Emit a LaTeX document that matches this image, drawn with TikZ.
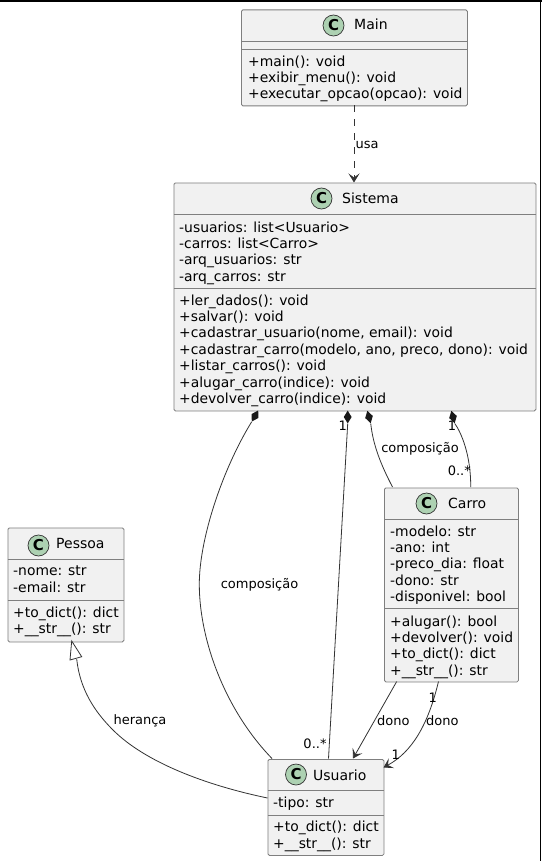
\documentclass[tikz,border=0pt]{standalone}
\usepackage{fontspec}
\setmainfont{DejaVu Sans}
\usepackage{tikz}
\usetikzlibrary{arrows.meta,calc,positioning,shapes.geometric}

\definecolor{boxfill}{HTML}{F1F1F1}
\definecolor{boxline}{HTML}{7F7F7F}
\definecolor{spotfill}{HTML}{ADD1B2}
\definecolor{edgeline}{HTML}{333333}

\tikzset{
    classbox/.style={draw=boxline, fill=boxfill, rounded corners=1.5pt, line width=0.8pt, inner sep=0pt, anchor=north west},
    classname/.style={font=\fontsize{14}{16}\selectfont, inner sep=0pt, anchor=base west, text=black},
    members/.style={font=\fontsize{13.9}{16.35}\selectfont, inner sep=0pt, anchor=north west, align=left, text=black},
    spot/.style={circle, draw=black!80, fill=spotfill, line width=0.7pt, minimum size=21pt, inner sep=0pt, font=\bfseries\fontsize{15}{15}\selectfont},
    sep/.style={draw=boxline, line width=0.8pt},
    edge/.style={draw=edgeline, line width=0.8pt},
    lbl/.style={font=\fontsize{13}{14}\selectfont, inner sep=0pt, text=black},
    comp/.style={diamond, fill=black!90, inner sep=0pt, minimum width=8pt, minimum height=13pt},
    barb/.style={-{Stealth[length=9pt,width=11pt,inset=4pt]}}
}

\begin{document}
\begin{tikzpicture}[x=1pt, y=-1pt]
    \useasboundingbox (0,0) rectangle (542,861);
    % Frame
    \fill[white] (0,0) rectangle (542,861);
    \draw[black, line width=2pt] (0,1) -- (542,1);
    \draw[black, line width=1pt] (540.5,0) -- (540.5,861);

    % Main
    \node[classbox, minimum width=226pt, minimum height=96pt] (main) at (241,9.5) {};
    \draw[sep] (241,41.5) -- (467,41.5);
    \draw[sep] (241,49.5) -- (467,49.5);
    \node[spot] (mainc) at (333.5,25.5) {C};
    \node[classname] (maint) at (354,30) {Main};
    \node[members] (mainm) at (248,55.5) {+main(): void\\+exibir\_menu(): void\\+executar\_opcao(opcao): void};

    % Sistema
    \node[classbox, minimum width=362pt, minimum height=228pt] (sistema) at (173.5,182.5) {};
    \draw[sep] (173.5,214.5) -- (535.5,214.5);
    \draw[sep] (173.5,288) -- (535.5,288);
    \node[spot] (sistemac) at (321.5,198.5) {C};
    \node[classname] (sistemat) at (342,204) {Sistema};
    \node[members] (sistemaa) at (179,221.5) {-usuarios: list<Usuario>\\-carros: list<Carro>\\-arq\_usuarios: str\\-arq\_carros: str};
    \node[members] (sistemam) at (179,294.5) {+ler\_dados(): void\\+salvar(): void\\+cadastrar\_usuario(nome, email): void\\+cadastrar\_carro(modelo, ano, preco, dono): void\\+listar\_carros(): void\\+alugar\_carro(indice): void\\+devolver\_carro(indice): void};

    % Pessoa
    \node[classbox, minimum width=116pt, minimum height=114pt] (pessoa) at (7.5,527.5) {};
    \draw[sep] (7.5,559.5) -- (123.5,559.5);
    \draw[sep] (7.5,600.5) -- (123.5,600.5);
    \node[spot] (pessoac) at (38.5,545.5) {C};
    \node[classname] (pessoat) at (56,548.5) {Pessoa};
    \node[members] (pessoaa) at (13,566) {-nome: str\\-email: str};
    \node[members] (pessoam) at (13,606.5) {+to\_dict(): dict\\+\_\_str\_\_(): str};

    % Carro
    \node[classbox, minimum width=134pt, minimum height=194pt] (carro) at (384,487.5) {};
    \draw[sep] (384,519.5) -- (518,519.5);
    \draw[sep] (384,608) -- (518,608);
    \node[spot] (carroc) at (426.5,503.5) {C};
    \node[classname] (carrot) at (448,508.5) {Carro};
    \node[members] (carroa) at (390,525.5) {-modelo: str\\-ano: int\\-preco\_dia: float\\-dono: str\\-disponivel: bool};
    \node[members] (carrom) at (390,615.5) {+alugar(): bool\\+devolver(): void\\+to\_dict(): dict\\+\_\_str\_\_(): str};

    % Usuario
    \node[classbox, minimum width=116pt, minimum height=96pt] (usuario) at (267.5,759) {};
    \draw[sep] (267.5,790.5) -- (383.5,790.5);
    \draw[sep] (267.5,815.5) -- (383.5,815.5);
    \node[spot] (usuarioc) at (296,774.5) {C};
    \node[classname] (usuariot) at (313,780.5) {Usuario};
    \node[members] (usuarioa) at (273,796.5) {-tipo: str};
    \node[members] (usuariom) at (273,821) {+to\_dict(): dict\\+\_\_str\_\_(): str};

    % Main -> Sistema
    \coordinate (mainout) at (354,105.5);
    \coordinate (sistemain) at (354,182.5);
    \draw[edge, dash pattern=on 7pt off 7pt, barb] (mainout) -- (sistemain);
    \node[lbl, anchor=west] (usa) at (355.5,144.5) {usa};

    % Composicoes
    \node[comp, rotate=-30] (d1) at (255,416) {};
    \node[comp] (d2) at (347.7,417) {};
    \node[comp, rotate=15] (d3) at (369,417) {};
    \node[comp, rotate=15] (d4) at (453,417) {};
    \coordinate (u1) at (272,758.5);
    \coordinate (u2) at (328.5,758.5);
    \coordinate (c1) at (392.5,487);
    \coordinate (c2) at (470.7,487);
    \draw[edge] (d1.south) .. controls (222,470) and (199,540) .. (199.3,585) .. controls (199.5,640) and (225,710) .. (u1);
    \draw[edge] (d2.south) -- (u2);
    \draw[edge] (d3.south) .. controls (373,445) and (381,465) .. (c1);
    \draw[edge] (d4.south) .. controls (461,432) and (471,455) .. (c2);
    \node[lbl] (comp1) at (259.5,584.5) {composição};
    \node[lbl] (comp2) at (420,449) {composição};
    \node[lbl] (um1) at (342.7,425.7) {1};
    \node[lbl] (um2) at (452,426) {1};
    \node[lbl] (n1) at (315,743.3) {0..*};
    \node[lbl] (n2) at (459.3,471) {0..*};

    % Heranca
    \coordinate (pin) at (71.7,641);
    \coordinate (uh) at (267.5,798);
    \coordinate (tipo) at (76.7,659);
    \draw[edge] (uh) .. controls (205,785) and (145,762) .. (113,730) .. controls (95,712) and (80,690) .. (tipo);
    \draw[edge, fill=white, line join=miter] (pin) -- (70,660) -- (81.7,656.7) -- cycle;
    \node[lbl] (her) at (140,721) {herança};

    % Carro -> Usuario
    \coordinate (cd1) at (396.7,681.5);
    \coordinate (ud1) at (353,758.5);
    \coordinate (cd2) at (438.5,681.5);
    \coordinate (ud2) at (383.5,767.5);
    \draw[edge, barb] (cd1) -- (ud1);
    \draw[edge, barb] (cd2) .. controls (428,725) and (412,752) .. (ud2);
    \node[lbl] (dono1) at (393.3,720.7) {dono};
    \node[lbl] (dono2) at (442.3,720.7) {dono};
    \node[lbl] (um3) at (432.7,697.7) {1};
    \node[lbl] (um4) at (395.7,754.3) {1};
\end{tikzpicture}
\end{document}
